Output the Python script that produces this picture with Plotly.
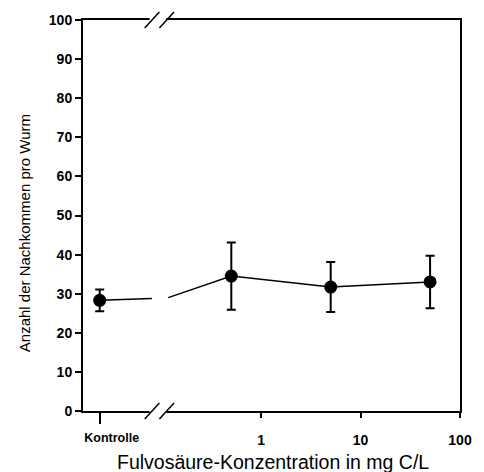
import math
import plotly.graph_objects as go

# ---- data ----
categories = ["Kontrolle", "0.5", "5", "50"]
concentration = [None, 0.5, 5, 50]          # mg C/L (Kontrolle has no concentration)
mean_offspring = [28.3, 34.5, 31.7, 33.0]   # Anzahl der Nachkommen pro Wurm
error = [2.8, 8.6, 6.4, 6.7]
# connecting line across the axis break
break_conc = [0.0794, 0.116]
break_vals = [28.75, 29.0]
x_tick_vals = [1, 10, 100]
x_tick_text = ["1", "10", "100"]
y_tick_vals = list(range(0, 101, 10))

# ---- layout constants ----
KONTROLLE_POS = 0.0237
X_RANGE = [math.log10(0.0161), 2.0]
W, H = 484, 472
L, R, T, B = 83, 16, 19, 61
PW, PH = W - L - R, H - T - B

def px(xp):
    return (xp - L) / PW

def py(yp):
    return (H - B - yp) / PH

xs = [KONTROLLE_POS] + concentration[1:]

line_x = [xs[0], break_conc[0], None, break_conc[1]] + xs[1:]
line_y = [mean_offspring[0], break_vals[0], None, break_vals[1]] + mean_offspring[1:]

fig = go.Figure()
fig.add_trace(go.Scatter(x=line_x, y=line_y, mode="lines",
                         line=dict(color="black", width=1.5),
                         connectgaps=False, hoverinfo="skip", showlegend=False))
fig.add_trace(go.Scatter(x=xs, y=mean_offspring, mode="markers",
                         text=categories,
                         marker=dict(color="black", size=13),
                         error_y=dict(type="data", array=error, visible=True,
                                      color="black", thickness=2, width=4.5),
                         showlegend=False))
# dummy trace for the Kontrolle axis
fig.add_trace(go.Scatter(x=[KONTROLLE_POS], y=[None], xaxis="x2",
                         mode="markers", showlegend=False, hoverinfo="skip"))

tick_font = dict(family="Liberation Sans, Arial, sans-serif", size=14, color="black", weight="bold")

fig.update_layout(
    width=W, height=H,
    margin=dict(l=L, r=R, t=T, b=B),
    paper_bgcolor="white", plot_bgcolor="white",
    font=dict(family="Liberation Sans, Arial, sans-serif", color="black"),
    xaxis=dict(type="log", range=X_RANGE, tickvals=x_tick_vals, ticktext=x_tick_text,
               ticks="outside", ticklen=5, tickwidth=1.5, tickcolor="black",
               tickfont=tick_font, showgrid=False, zeroline=False,
               showline=True, linecolor="black", linewidth=2, mirror=True,
               ticklabelstandoff=10),
    xaxis2=dict(type="log", range=X_RANGE, overlaying="x", side="bottom",
                tickvals=[KONTROLLE_POS], ticktext=[categories[0]],
                ticks="outside", ticklen=12, tickwidth=1.5, tickcolor="black",
                tickfont=dict(tick_font, size=12.5), showgrid=False, zeroline=False,
                showline=False, ticklabelstandoff=3, ticklabelshift=12),
    yaxis=dict(range=[0, 100], tickvals=y_tick_vals,
               ticks="outside", ticklen=6, tickwidth=1.5, tickcolor="black",
               tickfont=tick_font, showgrid=False, zeroline=False,
               showline=True, linecolor="black", linewidth=2, mirror=True),
)

# axis break: gap in the top and bottom frame lines plus slash marks
shapes = []
for ybase in (H - B, T):
    shapes.append(dict(type="line", xref="paper", yref="paper",
                       x0=px(151), x1=px(168), y0=py(ybase), y1=py(ybase),
                       line=dict(color="white", width=5)))
    for x0 in (146, 161):
        shapes.append(dict(type="line", xref="paper", yref="paper",
                           x0=px(x0), x1=px(x0 + 15), y0=py(ybase + 8), y1=py(ybase - 8),
                           line=dict(color="black", width=1.5)))
fig.update_layout(shapes=shapes)

fig.add_annotation(text="Anzahl der Nachkommen pro Wurm", xref="paper", yref="paper",
                   x=px(24), y=py(232.5), showarrow=False, textangle=-90,
                   font=dict(size=15, color="black"), xanchor="center", yanchor="middle")
fig.add_annotation(text="Fulvosäure-Konzentration in mg C/L", xref="paper", yref="paper",
                   x=px(277.5), y=py(462), showarrow=False,
                   font=dict(size=19.5, color="black"), xanchor="center", yanchor="middle")

fig.write_html(
    "out.html",
    config={"displayModeBar": False},
    post_script=("document.body.style.margin='0';"
                 "document.body.style.overflow='hidden';"
                 "document.documentElement.style.overflow='hidden';"),
)
